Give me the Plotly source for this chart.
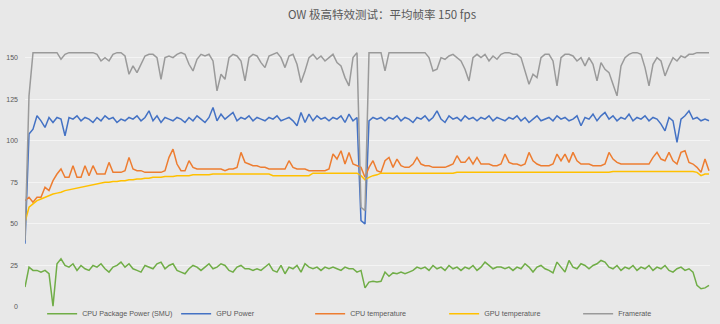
import plotly.graph_objects as go

# sample index (time steps)
samples = list(range(172))

framerate = [
    40, 127, 153, 153, 153, 153, 153, 153, 153, 149, 152, 153, 153, 153, 153, 153, 153, 153, 152, 148,
    150, 148, 152, 153, 153, 151, 140, 145, 141, 146, 151, 152, 152, 150, 137, 150, 151, 150, 152, 153,
    152, 146, 142, 149, 152, 151, 152, 148, 130, 140, 137, 150, 152, 151, 148, 136, 150, 152, 151, 147,
    144, 151, 152, 153, 150, 144, 151, 152, 146, 135, 142, 150, 152, 149, 151, 148, 150, 152, 147, 145,
    138, 133, 150, 153, 60, 58, 153, 153, 153, 153, 142, 153, 153, 153, 153, 153, 153, 153, 153, 153,
    153, 150, 142, 143, 150, 149, 151, 152, 150, 148, 143, 136, 150, 152, 150, 152, 148, 151, 149, 152,
    153, 153, 152, 152, 150, 142, 134, 140, 138, 150, 152, 152, 148, 133, 150, 152, 152, 151, 148, 150,
    145, 150, 146, 136, 147, 143, 141, 134, 127, 145, 150, 152, 153, 153, 152, 144, 133, 146, 150, 148,
    139, 145, 150, 148, 151, 150, 152, 152, 153, 153, 153, 153,
]

gpu_power = [
    38, 104, 107, 115, 112, 108, 114, 111, 114, 113, 103, 114, 113, 115, 112, 114, 113, 111, 114, 112,
    115, 113, 114, 111, 113, 112, 114, 113, 115, 112, 114, 118, 112, 115, 111, 114, 113, 112, 114, 113,
    111, 114, 112, 115, 113, 111, 114, 120, 112, 116, 113, 115, 117, 112, 114, 113, 115, 112, 114, 113,
    112, 114, 113, 115, 112, 113, 114, 112, 109, 117, 111, 116, 112, 115, 113, 114, 112, 114, 113, 115,
    111, 116, 112, 114, 52, 50, 112, 114, 113, 114, 112, 114, 113, 115, 112, 114, 113, 111, 114, 113,
    115, 112, 114, 118, 113, 111, 115, 113, 114, 112, 115, 113, 114, 112, 114, 113, 115, 112, 114, 113,
    112, 114, 113, 115, 112, 114, 111, 113, 115, 112, 113, 114, 112, 115, 113, 114, 112, 113, 115, 109,
    114, 113, 116, 112, 115, 117, 113, 115, 112, 114, 113, 116, 112, 114, 113, 115, 112, 114, 113, 110,
    106, 114, 112, 99, 113, 115, 118, 113, 114, 112, 113, 112,
]

cpu_temp = [
    64, 66, 63, 66, 66, 72, 70, 76, 80, 83, 78, 78, 85, 78, 78, 85, 79, 85, 80, 80,
    80, 87, 81, 81, 81, 82, 90, 83, 82, 82, 81, 81, 81, 81, 81, 82, 90, 95, 86, 82,
    82, 88, 84, 83, 83, 83, 83, 83, 83, 83, 82, 83, 83, 84, 93, 87, 86, 85, 85, 84,
    84, 83, 83, 83, 83, 83, 88, 84, 83, 83, 83, 82, 82, 82, 82, 82, 83, 92, 89, 94,
    86, 93, 86, 85, 84, 78, 84, 88, 82, 81, 88, 90, 84, 89, 85, 84, 84, 86, 90, 86,
    85, 85, 84, 84, 84, 84, 85, 86, 91, 87, 87, 90, 86, 90, 86, 86, 86, 85, 85, 86,
    92, 87, 86, 86, 85, 86, 93, 88, 86, 85, 85, 85, 86, 92, 88, 92, 87, 93, 88, 86,
    86, 86, 85, 85, 85, 86, 93, 89, 87, 86, 86, 86, 86, 86, 86, 86, 86, 90, 93, 89,
    88, 93, 88, 86, 93, 94, 87, 86, 84, 81, 89, 82,
]

gpu_temp = [
    51, 60, 62, 64, 65, 66, 67, 68, 68.5, 69, 70, 70.5, 71, 71.5, 72, 72.5, 73, 73.5, 74, 74.5,
    75, 75, 75.5, 75.5, 76, 76, 76.5, 76.5, 77, 77, 77.5, 77.5, 78, 78, 78, 78.5, 78.5, 78.5, 79, 79,
    79, 79, 79.5, 79.5, 79.5, 79.5, 79.5, 80, 80, 80, 80, 80, 80, 80, 80, 80, 80, 80, 80, 80,
    80, 80, 79, 79, 79, 79, 79, 79, 79, 79, 79, 79, 80.5, 80.5, 80.5, 80.5, 80.5, 80.5, 80.5, 80.5,
    80.5, 80.5, 80.5, 80.5, 79, 76.5, 78, 79, 79.5, 80.5, 80.5, 80.5, 80.5, 80.5, 80.5, 80.5, 80.5, 80.5, 80.5, 80.5,
    80.5, 80.5, 80.5, 80.5, 80.5, 80.5, 80.5, 80.5, 81, 81, 81, 81, 81, 81, 81, 81, 81, 81, 81, 81,
    81, 81, 81, 81, 81, 81, 81, 81, 81, 81, 81, 81, 81, 81, 81, 81, 81, 81, 81, 81,
    81, 81, 81, 81, 81, 81, 81, 81.5, 81.5, 81.5, 81.5, 81.5, 81.5, 81.5, 81.5, 81.5, 81.5, 81.5, 81.5, 81.5,
    81.5, 81.5, 81.5, 81.5, 81.5, 81.5, 81.5, 81.5, 81, 79, 80, 80,
]

cpu_power = [
    12, 24, 22, 22, 21, 22, 20, 0.5, 26, 29, 25, 24, 26, 22, 25, 23, 22, 25, 24, 26,
    23, 21, 24, 25, 27, 24, 26, 23, 22, 21, 25, 24, 23, 26, 27, 23, 25, 26, 22, 21,
    20, 23, 25, 24, 22, 24, 26, 23, 24, 26, 25, 22, 21, 24, 25, 23, 23, 22, 23, 22,
    24, 26, 22, 21, 25, 20, 24, 23, 25, 21, 26, 24, 23, 24, 22, 24, 23, 24, 23, 22,
    24, 23, 23, 21, 22, 11.5, 15, 15.5, 15, 15.5, 21, 18.5, 20.5, 20, 21, 20, 21, 22, 24, 23,
    24, 22, 25, 23, 24, 22, 25, 23, 24, 22, 24, 23, 25, 22, 24, 27, 25, 23, 24, 24,
    23, 24, 22, 24, 23, 26, 24, 21, 24, 25, 23, 22, 20.5, 27, 24, 21, 28, 24, 23, 26,
    25, 23, 25, 26, 28, 27, 24, 23, 25, 22, 24, 23, 25, 22, 24, 23, 25, 22, 24, 23,
    25, 22, 21, 23, 24, 22, 23, 21, 13, 11, 11.5, 13,
]

series_names = ["CPU Package Power (SMU)", "GPU Power", "CPU temperature", "GPU temperature", "Framerate"]
series_values = [cpu_power, gpu_power, cpu_temp, gpu_temp, framerate]
series_colors = ["#70ad47", "#4472c4", "#ed7d31", "#ffc000", "#9a9a9a"]

y_ticks = [0, 25, 50, 75, 100, 125, 150]
title_text = "OW 极高特效测试：平均帧率 150 fps"

fig = go.Figure()
for name, vals, col in zip(series_names, series_values, series_colors):
    fig.add_trace(go.Scatter(x=samples, y=vals, name=name, mode="lines",
                             line=dict(color=col, width=1.5)))

fig.update_layout(
    width=720, height=324,
    margin=dict(l=25, r=10, t=46, b=17, autoexpand=False),
    paper_bgcolor="#e8e8e8", plot_bgcolor="#e8e8e8",
    title=dict(text=title_text, x=382 / 720, xref="container", xanchor="center",
               y=1 - 15 / 324, yanchor="middle", yref="container",
               font=dict(family="Noto Sans CJK SC", size=11.5, color="#595959")),
    showlegend=True,
    legend=dict(orientation="h", x=0.025, xanchor="left", y=0.03, yanchor="top",
                font=dict(family="Liberation Sans", size=7.2, color="#595959"),
                entrywidth=89, entrywidthmode="pixels", bgcolor="rgba(0,0,0,0)",
                itemwidth=30, tracegroupgap=0),
    font=dict(family="Liberation Sans", color="#595959"),
)
fig.update_xaxes(range=[0, 171.25], showticklabels=False, showgrid=False, zeroline=False,
                 showline=False, ticks="")
fig.update_yaxes(range=[0, 157], tickvals=y_ticks, ticktext=[str(t) for t in y_ticks],
                 showgrid=True, gridcolor="#f4f4f4", gridwidth=1, zeroline=False,
                 showline=False, ticks="", ticklabelstandoff=6,
                 tickfont=dict(family="Liberation Sans", size=7, color="#595959"))

fig.write_html("out.html")
